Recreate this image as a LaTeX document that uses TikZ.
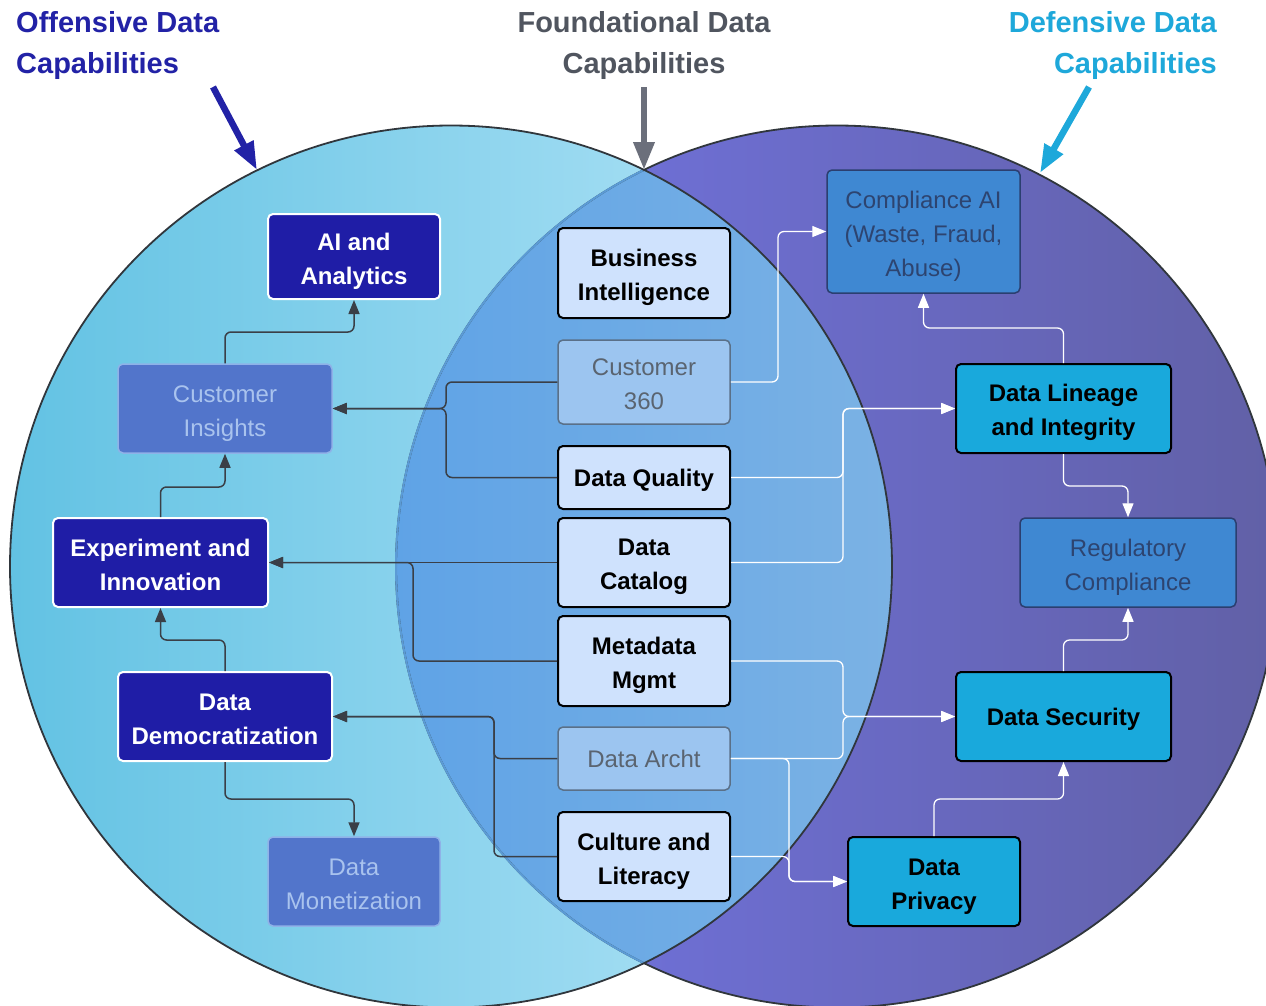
\documentclass[tikz,border=0pt]{standalone}
\usepackage{fontspec}
\setmainfont{Liberation Sans}
\usetikzlibrary{arrows.meta}
\definecolor{leftA}{HTML}{62C2E3}
\definecolor{leftB}{HTML}{A0DCF2}
\definecolor{lensA}{HTML}{5FA3E6}
\definecolor{lensB}{HTML}{7BB2E4}
\definecolor{rightA}{HTML}{6E6FD4}
\definecolor{rightB}{HTML}{6160A6}
\definecolor{offfill}{HTML}{1F1DA6}
\definecolor{offfade}{HTML}{5275CB}
\definecolor{offfadeline}{HTML}{8FB2E8}
\definecolor{offfadetext}{HTML}{A9C3EE}
\definecolor{fndfill}{HTML}{CFE2FD}
\definecolor{fndfade}{HTML}{9CC5F0}
\definecolor{fndfadeline}{HTML}{5A7088}
\definecolor{fndfadetext}{HTML}{5A6470}
\definecolor{dfnfill}{HTML}{19A9DC}
\definecolor{dfnfade}{HTML}{3F88D2}
\definecolor{dfnfadeline}{HTML}{2B3F70}
\definecolor{dfnfadetext}{HTML}{2D4470}
\definecolor{connDark}{HTML}{3A3F47}
\definecolor{offtitle}{HTML}{2222A6}
\definecolor{fndtitle}{HTML}{50555F}
\definecolor{dfntitle}{HTML}{1EA8DA}
\definecolor{fndarrow}{HTML}{6B6F7B}
\definecolor{circline}{HTML}{30363C}
\definecolor{faintline}{HTML}{5B9BD5}
\newcommand\myFt{\rule{0pt}{26pt}}
\newcommand\myLb{\rule[-5pt]{0pt}{5pt}}
\newcommand\mySg{\rule[-5pt]{0pt}{28pt}}
\tikzset{
  bx/.style={rounded corners=5pt, align=center, inner sep=0pt,
    font=\fontsize{24}{34}\selectfont},
  bxb/.style={bx, font=\fontsize{24}{34}\selectfont\bfseries},
  offn/.style={bxb, fill=offfill, draw=white, line width=2pt, text=white},
  offfaded/.style={bx, fill=offfade, draw=offfadeline, line width=1.5pt, text=offfadetext},
  fnd/.style={bxb, fill=fndfill, draw=black, line width=2pt, text=black},
  fndfaded/.style={bx, fill=fndfade, draw=fndfadeline, line width=1.5pt, text=fndfadetext},
  dfn/.style={bxb, fill=dfnfill, draw=black, line width=2pt, text=black},
  dfnfaded/.style={bx, fill=dfnfade, draw=dfnfadeline, line width=1.5pt, text=dfnfadetext},
  connL/.style={draw=connDark, line width=1.5pt, rounded corners=6pt,
    -{Triangle[length=14pt,width=11pt]}},
  connR/.style={draw=white, line width=1.3pt, rounded corners=6pt,
    -{Triangle[length=14pt,width=11pt]}},
  ttl/.style={inner sep=0pt, font=\fontsize{29}{41}\selectfont\bfseries},
  bigarrow/.style={line width=6.5pt, -{Triangle[length=28pt,width=20pt]}},
}
\begin{document}
\begin{tikzpicture}[x=1pt,y=-1pt]
\useasboundingbox (0,0) rectangle (1266,1005);
\clip (0,0) rectangle (1266,1005);
\fill[white] (0,0) rectangle (1266,1005);
\coordinate (Lc) at (451,566.5);
\coordinate (Rc) at (837,566.5);
% right circle
\begin{scope}
  \clip (Rc) circle[radius=441pt];
  \shade[left color=rightA, right color=rightB] (640,120) rectangle (1280,1010);
\end{scope}
% left circle
\begin{scope}
  \clip (Lc) circle[radius=441pt];
  \shade[left color=leftA, right color=leftB] (8,120) rectangle (650,1010);
\end{scope}
% lens
\begin{scope}
  \clip (Lc) circle[radius=441pt];
  \clip (Rc) circle[radius=441pt];
  \shade[left color=lensA, right color=lensB] (394,120) rectangle (894,1010);
\end{scope}
% borders
\draw[circline, line width=1.8pt] (Rc) circle[radius=441pt];
\begin{scope}
  \clip (Lc) circle[radius=441pt];
  \draw[faintline, line width=2pt] (Rc) circle[radius=441pt];
\end{scope}
\draw[circline, line width=1.8pt] (Lc) circle[radius=441pt];

% titles
\node[ttl, text=offtitle, anchor=north west, align=left] (tOff) at (16,11) {Offensive Data\\Capabilities};
\node[ttl, text=fndtitle, anchor=north, align=center] (tFnd) at (644,11) {Foundational Data\\Capabilities};
\node[ttl, text=dfntitle, anchor=north east, align=right] (tDfn) at (1217,11) {Defensive Data\\Capabilities};
\coordinate (offtail) at (213,87);
\coordinate (offtip) at (257,170);
\coordinate (fndtail) at (644,87);
\coordinate (fndtip) at (644,170);
\coordinate (dfntail) at (1089,87);
\coordinate (dfntip) at (1040,173);
\draw[bigarrow, offtitle] (offtail) -- (offtip);
\draw[bigarrow, fndarrow] (fndtail) -- (fndtip);
\draw[bigarrow, dfntitle] (dfntail) -- (dfntip);

% offensive nodes
\node[offn, minimum width=172pt, minimum height=85pt] (ai) at (354,256.5) {\myFt AI and\\Analytics\myLb};
\node[offfaded, minimum width=214pt, minimum height=89pt] (ci) at (225,408.5) {\myFt Customer\\Insights\myLb};
\node[offn, minimum width=215pt, minimum height=89pt] (ei) at (160.5,562.5) {\myFt Experiment and\\Innovation\myLb};
\node[offn, minimum width=214pt, minimum height=89pt] (dd) at (225,716.5) {\myFt Data\\Democratization\myLb};
\node[offfaded, minimum width=172pt, minimum height=89pt] (dm) at (354,881.5) {\myFt Data\\Monetization\myLb};

% foundational nodes
\node[fnd, minimum width=172pt, minimum height=90pt] (bi) at (644,273) {\myFt Business\\Intelligence\myLb};
\node[fndfaded, minimum width=172pt, minimum height=84pt] (c360) at (644,382) {\myFt Customer\\360\myLb};
\node[fnd, minimum width=172pt, minimum height=63pt] (dq) at (644,477.5) {\mySg Data Quality};
\node[fnd, minimum width=172pt, minimum height=89pt] (dc) at (644,562.5) {\myFt Data\\Catalog\myLb};
\node[fnd, minimum width=172pt, minimum height=90pt] (mm) at (644,661) {\myFt Metadata\\Mgmt\myLb};
\node[fndfaded, minimum width=172pt, minimum height=63pt] (da) at (644,758.5) {\mySg Data Archt};
\node[fnd, minimum width=172pt, minimum height=89pt] (cl) at (644,856.5) {\myFt Culture and\\Literacy\myLb};

% defensive nodes
\node[dfnfaded, minimum width=193pt, minimum height=123pt] (cai) at (923.5,231.5) {\myFt Compliance AI\\(Waste, Fraud,\\Abuse)\myLb};
\node[dfn, minimum width=215pt, minimum height=89pt] (dli) at (1063.5,408.5) {\myFt Data Lineage\\and Integrity\myLb};
\node[dfnfaded, minimum width=216pt, minimum height=89pt] (rc) at (1128,562.5) {\myFt Regulatory\\Compliance\myLb};
\node[dfn, minimum width=215pt, minimum height=89pt] (ds) at (1063.5,716.5) {\mySg Data Security};
\node[dfn, minimum width=172pt, minimum height=89pt] (dp) at (934,881.5) {\myFt Data\\Privacy\myLb};

% left connectors
\draw[connL] (ci.north) |- (354,332) -- (ai.south);
\draw[connL] (ei.north) |- (225,487) -- (ci.south);
\draw[connL] (dd.north) |- (160.5,640) -- (ei.south);
\draw[connL] (dd.south) |- (354,799) -- (dm.north);
\draw[connL] (c360.west) -| (446,408.5) -- (ci.east);
\draw[connL] (dq.west) -| (446,408.5) -- (ci.east);
\draw[connL] (dc.west) -- (ei.east);
\draw[connL] (mm.west) -| (413,562.5) -- (ei.east);
\draw[connL] (da.west) -| (494,716.5) -- (dd.east);
\draw[connL] (cl.west) -| (494,716.5) -- (dd.east);

% right connectors
\draw[connR] (c360.east) -| (778,231.5) -- (cai.west);
\draw[connR] (dq.east) -| (843,408.5) -- (dli.west);
\draw[connR] (dc.east) -| (843,408.5) -- (dli.west);
\draw[connR] (mm.east) -| (843,716.5) -- (ds.west);
\draw[connR] (da.east) -| (843,716.5) -- (ds.west);
\draw[connR] (da.east) -| (789,881.5) -- (dp.west);
\draw[connR] (cl.east) -| (789,881.5) -- (dp.west);
\draw[connR] (dli.north) |- (923.5,328) -- (cai.south);
\draw[connR] (dli.south) |- (1128,486) -- (rc.north);
\draw[connR] (ds.north) |- (1128,640) -- (rc.south);
\draw[connR] (dp.north) |- (1063.5,799) -- (ds.south);
\end{tikzpicture}
\end{document}
